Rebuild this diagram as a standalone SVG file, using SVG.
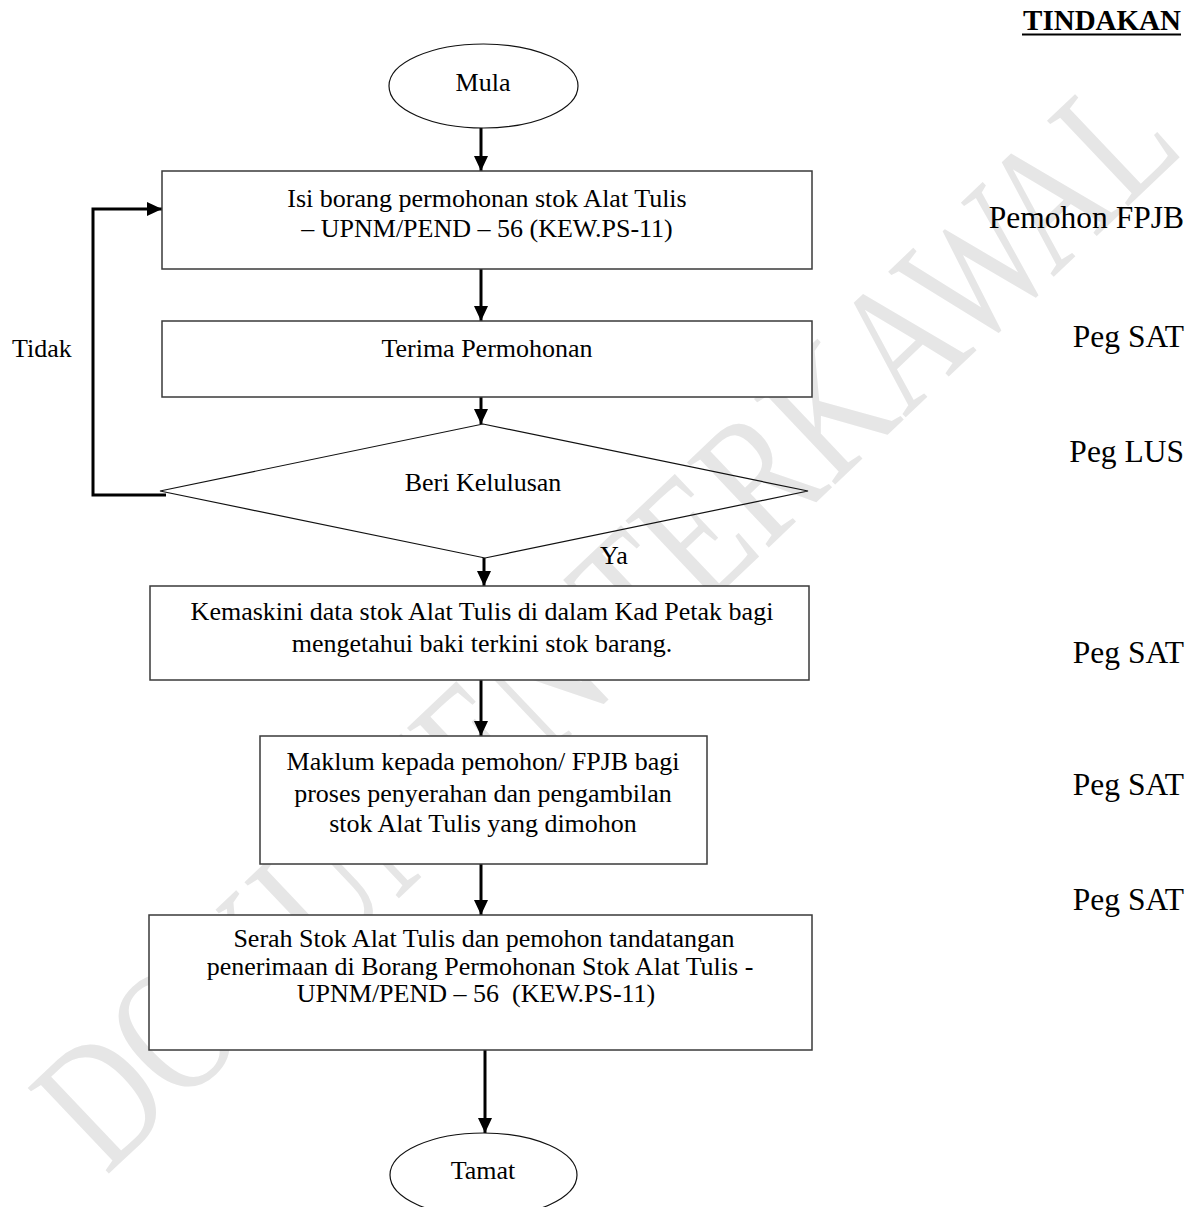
<svg xmlns="http://www.w3.org/2000/svg" width="1192" height="1207" viewBox="0 0 1192 1207">
<defs>
<style>
text{font-family:"Liberation Serif","Times New Roman",serif;fill:#000}
.t{font-size:26px;text-anchor:middle}
.r{font-size:31.5px;text-anchor:end}
.box{fill:#fff;stroke:#3a3a3a;stroke-width:1.5}
.term{fill:#fff;stroke:#111;stroke-width:1.2}
.dia{fill:none;stroke:#111;stroke-width:1.2}
.con{fill:none;stroke:#000;stroke-width:3;marker-end:url(#ah)}
.wm{font-size:180px;fill:#e6e6e6;text-anchor:middle}
</style>
<marker id="ah" viewBox="0 0 15 14" refX="15" refY="7" markerWidth="15" markerHeight="14" markerUnits="userSpaceOnUse" orient="auto">
<path d="M0,0 L15,7 L0,14 Z" fill="#000"/>
</marker>
</defs>
<rect width="1192" height="1207" fill="#fff"/>
<g id="watermark" transform="translate(605,620) rotate(-43.5)">
<text class="wm" x="0" y="60" textLength="1490" lengthAdjust="spacingAndGlyphs">DOKUMEN TERKAWAL</text>
</g>
<g id="connectors">
<line class="con" x1="481" y1="128" x2="481" y2="171"/>
<line class="con" x1="481" y1="269" x2="481" y2="321"/>
<line class="con" x1="481" y1="397" x2="481" y2="424"/>
<line class="con" x1="484" y1="558" x2="484" y2="586"/>
<line class="con" x1="481" y1="680" x2="481" y2="736"/>
<line class="con" x1="481" y1="864" x2="481" y2="915"/>
<line class="con" x1="485" y1="1050" x2="485" y2="1133"/>
<path class="con" d="M166,495 H93 V209 H162"/>
<text x="12" y="357" style="font-size:26px">Tidak</text>
<text x="600" y="564" style="font-size:26px">Ya</text>
</g>
<g id="mula">
<ellipse class="term" cx="483.5" cy="86" rx="94.5" ry="42"/>
<text class="t" x="483" y="91">Mula</text>
</g>
<g id="isi-borang">
<rect class="box" x="162" y="171" width="650" height="98"/>
<text class="t" x="487" y="207">Isi borang permohonan stok Alat Tulis</text>
<text class="t" x="487" y="237">– UPNM/PEND – 56 (KEW.PS-11)</text>
</g>
<g id="terima">
<rect class="box" x="162" y="321" width="650" height="76"/>
<text class="t" x="487" y="357">Terima Permohonan</text>
</g>
<g id="kelulusan">
<polygon class="dia" points="483,424 808,491 485,558 160,491"/>
<text class="t" x="483" y="491">Beri Kelulusan</text>
</g>
<g id="kemaskini">
<rect class="box" x="150" y="586" width="659" height="94"/>
<text class="t" x="482" y="620">Kemaskini data stok Alat Tulis di dalam Kad Petak bagi</text>
<text class="t" x="482" y="652">mengetahui baki terkini stok barang.</text>
</g>
<g id="maklum">
<rect class="box" x="260" y="736" width="447" height="128"/>
<text class="t" x="483" y="770">Maklum kepada pemohon/ FPJB bagi</text>
<text class="t" x="483" y="802">proses penyerahan dan pengambilan</text>
<text class="t" x="483" y="832">stok Alat Tulis yang dimohon</text>
</g>
<g id="serah">
<rect class="box" x="149" y="915" width="663" height="135"/>
<text class="t" x="484" y="947">Serah Stok Alat Tulis dan pemohon tandatangan</text>
<text class="t" x="480" y="975">penerimaan di Borang Permohonan Stok Alat Tulis -</text>
<text class="t" x="476" y="1002">UPNM/PEND – 56&#160; (KEW.PS-11)</text>
</g>
<g id="tamat">
<ellipse class="term" cx="483.5" cy="1175" rx="93.5" ry="42"/>
<text class="t" x="483" y="1179">Tamat</text>
</g>
<g id="tindakan">
<text x="1181" y="30" style="font-size:29px;font-weight:bold;text-anchor:end">TINDAKAN</text>
<line x1="1022" y1="34.5" x2="1181" y2="34.5" stroke="#000" stroke-width="2"/>
<text class="r" x="1184" y="228">Pemohon FPJB</text>
<text class="r" x="1184" y="347">Peg SAT</text>
<text class="r" x="1184" y="462">Peg LUS</text>
<text class="r" x="1184" y="663">Peg SAT</text>
<text class="r" x="1184" y="795">Peg SAT</text>
<text class="r" x="1184" y="910">Peg SAT</text>
</g>
</svg>
